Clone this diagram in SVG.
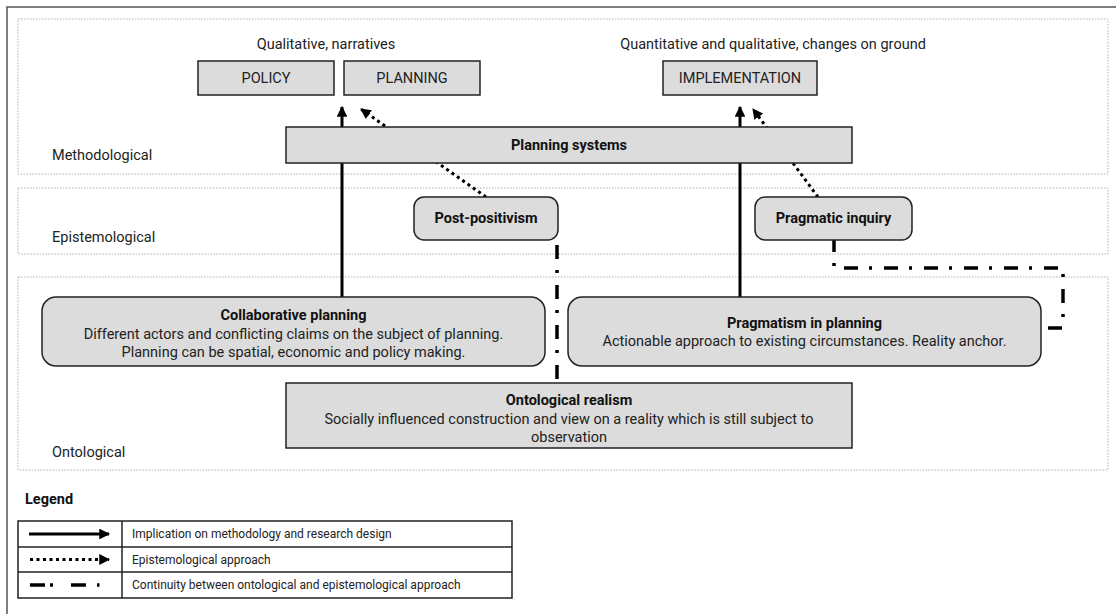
<svg xmlns="http://www.w3.org/2000/svg" width="1116" height="614" viewBox="0 0 1116 614">
<defs>
<style>
.band{fill:none;stroke:#b0b0b0;stroke-width:1;stroke-dasharray:1.5 1.5}
.lbl{font-family:Roboto,"Liberation Sans",sans-serif;font-size:14.5px;fill:#222}
.box{fill:#dcdcdc;stroke:#222;stroke-width:1.5}
.t{font-family:Roboto,"Liberation Sans",sans-serif;font-size:14.5px;fill:#222;text-anchor:middle}
.b{font-weight:bold;fill:#111}
.solid{stroke:#000;stroke-width:3;fill:none}
.dot{stroke:#000;stroke-width:3;fill:none;stroke-dasharray:3 3.5}
.dd{stroke:#000;stroke-width:3.5;fill:none;stroke-dasharray:14 11 3 12}
.lg{font-family:Roboto,"Liberation Sans",sans-serif;font-size:12px;fill:#222}
</style>
<marker id="ah" viewBox="0 0 10 10" refX="9" refY="5" markerWidth="3.6" markerHeight="3.6" orient="auto" markerUnits="strokeWidth">
<path d="M0,0 L10,5 L0,10 z" fill="#000"/>
</marker>
</defs>
<rect width="1116" height="614" fill="#fff"/>
<path d="M7,620 V7 H1120" fill="none" stroke="#555" stroke-width="1.5"/>
<g id="bands">
<rect class="band" x="18" y="19" width="1090" height="155"/>
<rect class="band" x="18" y="188" width="1090" height="66"/>
<rect class="band" x="18" y="277" width="1090" height="193"/>
<text class="lbl" x="52" y="160">Methodological</text>
<text class="lbl" x="52" y="242">Epistemological</text>
<text class="lbl" x="52" y="457">Ontological</text>
<text class="t" x="326" y="49">Qualitative, narratives</text>
<text class="t" x="773" y="49">Quantitative and qualitative, changes on ground</text>
</g>
<g id="connectors">
<line class="solid" x1="342" y1="297" x2="342" y2="107" marker-end="url(#ah)"/>
<line class="solid" x1="740" y1="297" x2="740" y2="107" marker-end="url(#ah)"/>
<line class="dot" x1="486" y1="197" x2="361" y2="109" marker-end="url(#ah)"/>
<line class="dot" x1="818" y1="197" x2="753" y2="109" marker-end="url(#ah)"/>
<line class="dd" x1="557" y1="245" x2="557" y2="383" stroke-dasharray="13 13 3 11"/>
<path class="dd" d="M834,240 V268 H1063 V328 H1041" stroke-dashoffset="2"/>
</g>
<g id="policy"><rect class="box" x="198" y="61" width="136" height="34"/><text class="t" x="266" y="83">POLICY</text></g>
<g id="planning"><rect class="box" x="344" y="61" width="136" height="34"/><text class="t" x="412" y="83">PLANNING</text></g>
<g id="implementation"><rect class="box" x="663" y="61" width="154" height="34"/><text class="t" x="740" y="83">IMPLEMENTATION</text></g>
<g id="planning-systems"><rect class="box" x="286" y="127" width="566" height="36"/><text class="t b" x="569" y="150">Planning systems</text></g>
<g id="post-positivism"><rect class="box" x="414" y="197" width="144" height="43" rx="10"/><text class="t b" x="486" y="223">Post-positivism</text></g>
<g id="pragmatic-inquiry"><rect class="box" x="755" y="197" width="157" height="43" rx="10"/><text class="t b" x="833.5" y="223">Pragmatic inquiry</text></g>
<g id="collaborative-planning"><rect class="box" x="42" y="297" width="503" height="69" rx="14"/>
<text class="t b" x="293.5" y="320">Collaborative planning</text>
<text class="t" x="293.5" y="339">Different actors and conflicting claims on the subject of planning.</text>
<text class="t" x="293.5" y="357">Planning can be spatial, economic and policy making.</text></g>
<g id="pragmatism-in-planning"><rect class="box" x="568" y="297" width="473" height="69" rx="14"/>
<text class="t b" x="804.5" y="328">Pragmatism in planning</text>
<text class="t" x="804.5" y="346">Actionable approach to existing circumstances. Reality anchor.</text></g>
<g id="ontological-realism"><rect class="box" x="286" y="383" width="566" height="65"/>
<text class="t b" x="569" y="405">Ontological realism</text>
<text class="t" x="569" y="424">Socially influenced construction and view on a reality which is still subject to</text>
<text class="t" x="569" y="442">observation</text></g>
<g id="legend">
<text class="lbl b" x="25" y="504">Legend</text>
<rect x="18" y="521" width="494" height="77" fill="none" stroke="#222" stroke-width="1.5"/>
<line x1="18" y1="547" x2="512" y2="547" stroke="#222" stroke-width="1.5"/>
<line x1="18" y1="572" x2="512" y2="572" stroke="#222" stroke-width="1.5"/>
<line x1="122" y1="521" x2="122" y2="598" stroke="#222" stroke-width="1.5"/>
<line class="solid" x1="29" y1="534" x2="109" y2="534" marker-end="url(#ah)"/>
<line class="dot" x1="30" y1="559.5" x2="109" y2="559.5" marker-end="url(#ah)"/>
<path d="M30,585 H45 M50,585 H53 M71,585 H86 M97,585 H99.5" stroke="#000" stroke-width="3.5" fill="none"/>
<text class="lg" x="132" y="538">Implication on methodology and research design</text>
<text class="lg" x="132" y="564">Epistemological approach</text>
<text class="lg" x="132" y="589">Continuity between ontological and epistemological approach</text>
</g>
</svg>
